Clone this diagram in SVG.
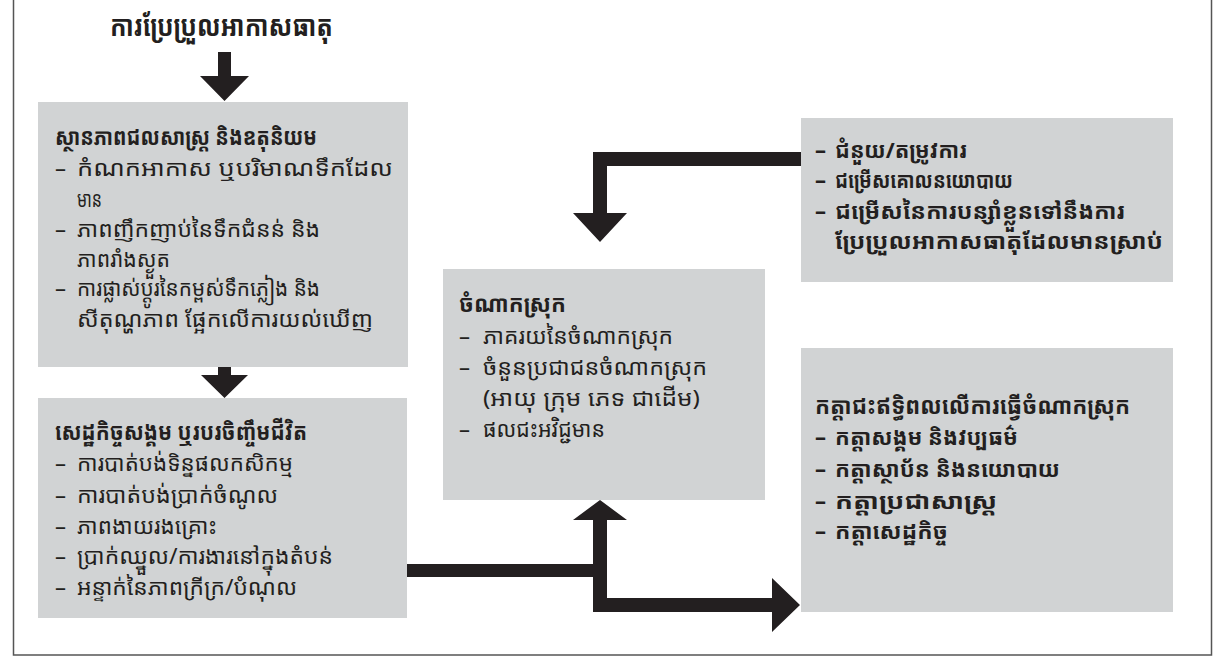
<svg xmlns="http://www.w3.org/2000/svg" width="1224" height="657" viewBox="0 0 1224 657">
<style>
.box{fill:#d1d3d4}
.conn{fill:#231f20}
text{font-family:"Noto Sans Khmer","Noto Serif Khmer","Khmer OS","Noto Sans","DejaVu Sans",sans-serif;fill:#231f20;font-size:22px}
.t{font-weight:bold;font-size:23px}
.b{font-weight:bold}
.main{font-size:29px;font-weight:bold}
</style>
<rect x="13.5" y="-2" width="1198" height="657" fill="#fff" stroke="#555" stroke-width="1.5"/>
<g id="title"><text class="main" x="110" y="36" textLength="223" lengthAdjust="spacingAndGlyphs">ការប្រែប្រួលអាកាសធាតុ</text></g>
<g id="connectors">
<path class="conn" d="M218,52 L231,52 L231,76 L249,76 L224.5,101 L200,76 L218,76 Z"/>
<path class="conn" d="M218,367 L231,367 L231,375 L248,375 L224.5,398 L201,375 L218,375 Z"/>
<path class="conn" d="M407,564 L593,564 L593,520 L573,520 L600,500 L627,520 L607,520 L607,598 L772,598 L772,578 L800,605 L772,632 L772,612 L593,612 L593,577 L407,577 Z"/>
<path class="conn" d="M801,152 L593,152 L593,213 L573,213 L600,242 L627,213 L607,213 L607,166 L801,166 Z"/>
</g>
<g id="node-hydromet">
<rect class="box" x="38" y="102" width="370" height="265"/>
<text class="t" x="55" y="145" textLength="262" lengthAdjust="spacingAndGlyphs">ស្ថានភាពជលសាស្ត្រ និងឧតុនិយម</text>
<text x="55" y="176">–</text><text x="77" y="176" textLength="316" lengthAdjust="spacingAndGlyphs">កំណកអាកាស ឬបរិមាណទឹកដែល</text>
<text x="77" y="207" textLength="25" lengthAdjust="spacingAndGlyphs">មាន</text>
<text x="55" y="237">–</text><text x="77" y="237" textLength="243" lengthAdjust="spacingAndGlyphs">ភាពញឹកញាប់នៃទឹកជំនន់ និង</text>
<text x="77" y="267" textLength="93" lengthAdjust="spacingAndGlyphs">ភាពរាំងស្ងួត</text>
<text x="55" y="296">–</text><text x="77" y="296" textLength="243" lengthAdjust="spacingAndGlyphs">ការផ្លាស់ប្តូរនៃកម្ពស់ទឹកភ្លៀង និង</text>
<text x="77" y="327" textLength="296" lengthAdjust="spacingAndGlyphs">សីតុណ្ហភាព ផ្អែកលើការយល់ឃើញ</text>
</g>
<g id="node-socioeconomic">
<rect class="box" x="38" y="398" width="369" height="220"/>
<text class="t" x="55" y="440" textLength="252" lengthAdjust="spacingAndGlyphs">សេដ្ឋកិច្ចសង្គម ឬរបរចិញ្ចឹមជីវិត</text>
<text x="55" y="471">–</text><text x="77" y="471" textLength="216" lengthAdjust="spacingAndGlyphs">ការបាត់បង់ទិន្នផលកសិកម្ម</text>
<text x="55" y="503">–</text><text x="77" y="503" textLength="201" lengthAdjust="spacingAndGlyphs">ការបាត់បង់ប្រាក់ចំណូល</text>
<text x="55" y="534">–</text><text x="77" y="534" textLength="140" lengthAdjust="spacingAndGlyphs">ភាពងាយរងគ្រោះ</text>
<text x="55" y="564">–</text><text x="77" y="564" textLength="256" lengthAdjust="spacingAndGlyphs">ប្រាក់ឈ្នួល/ការងារនៅក្នុងតំបន់</text>
<text x="55" y="595">–</text><text x="77" y="595" textLength="220" lengthAdjust="spacingAndGlyphs">អន្ទាក់នៃភាពក្រីក្រ/បំណុល</text>
</g>
<g id="node-migration">
<rect class="box" x="443" y="269" width="322" height="231"/>
<text class="t" x="459" y="312" textLength="107" lengthAdjust="spacingAndGlyphs">ចំណាកស្រុក</text>
<text x="459" y="344">–</text><text x="483" y="344" textLength="190" lengthAdjust="spacingAndGlyphs">ភាគរយនៃចំណាកស្រុក</text>
<text x="459" y="375">–</text><text x="483" y="375" textLength="224" lengthAdjust="spacingAndGlyphs">ចំនួនប្រជាជនចំណាកស្រុក</text>
<text x="483" y="406" textLength="217" lengthAdjust="spacingAndGlyphs">(អាយុ ក្រុម ភេទ ជាដើម)</text>
<text x="459" y="437">–</text><text x="483" y="437" textLength="122" lengthAdjust="spacingAndGlyphs">ផលជះអវិជ្ជមាន</text>
</g>
<g id="node-policy">
<rect class="box" x="801" y="118" width="372" height="164"/>
<text class="b" x="815" y="158">–</text><text class="b" x="835" y="158" textLength="132" lengthAdjust="spacingAndGlyphs">ជំនួយ/តម្រូវការ</text>
<text class="b" x="815" y="188">–</text><text class="b" x="835" y="188" textLength="178" lengthAdjust="spacingAndGlyphs">ជម្រើសគោលនយោបាយ</text>
<text class="b" x="815" y="219">–</text><text class="b" x="835" y="219" textLength="290" lengthAdjust="spacingAndGlyphs">ជម្រើសនៃការបន្សាំខ្លួនទៅនឹងការ</text>
<text class="b" x="835" y="249" textLength="328" lengthAdjust="spacingAndGlyphs">ប្រែប្រួលអាកាសធាតុដែលមានស្រាប់</text>
</g>
<g id="node-factors">
<rect class="box" x="801" y="348" width="372" height="264"/>
<text class="t" x="815" y="414" textLength="315" lengthAdjust="spacingAndGlyphs">កត្តាជះឥទ្ធិពលលើការធ្វើចំណាកស្រុក</text>
<text class="b" x="815" y="445">–</text><text class="b" x="835" y="445" textLength="183" lengthAdjust="spacingAndGlyphs">កត្តាសង្គម និងវប្បធម៌</text>
<text class="b" x="815" y="477">–</text><text class="b" x="835" y="477" textLength="225" lengthAdjust="spacingAndGlyphs">កត្តាស្ថាប័ន និងនយោបាយ</text>
<text class="b" x="815" y="509">–</text><text class="b" x="835" y="509" textLength="162" lengthAdjust="spacingAndGlyphs">កត្តាប្រជាសាស្ត្រ</text>
<text class="b" x="815" y="539">–</text><text class="b" x="835" y="539" textLength="113" lengthAdjust="spacingAndGlyphs">កត្តាសេដ្ឋកិច្ច</text>
</g>
</svg>
